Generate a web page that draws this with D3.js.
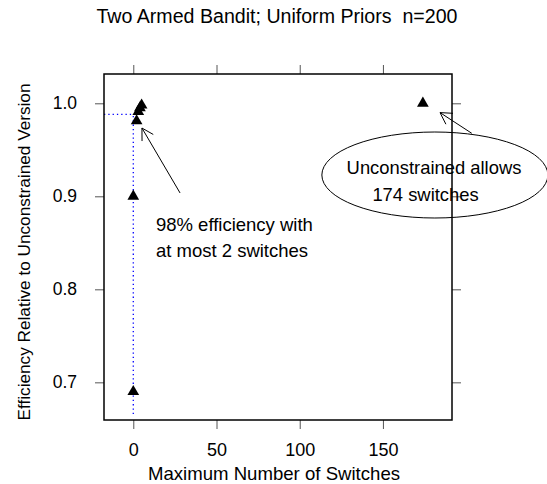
<!DOCTYPE html>
<html>
    <head>
        <title>Two Armed Bandit</title>
        <script src="https://d3js.org/d3.v7.min.js"></script>
    </head>
    <style>
        body { margin: 0; background: #fff; }
        text { font-family: "Liberation Sans", Arial, sans-serif; fill: #000; white-space: pre; }
    </style>
    <body>
        <div class="graph"></div>
        <script>
            // data
            const maxSwitches = [0, 0, 2, 3, 4, 5, 174];
            const efficiency = [0.69, 0.90, 0.981, 0.991, 0.995, 0.998, 1.0];
            const xTicks = [0, 50, 100, 150];
            const yTicks = [0.7, 0.8, 0.9, 1.0];
            const refLevel = 0.988;   // blue dotted guide

            const width = 547;
            const height = 484;
            const box = { left: 104, right: 452, top: 74, bottom: 420 };

            const x = d3.scaleLinear()
                .domain([-17.6, 191.5])
                .range([box.left, box.right]);

            const y = d3.scaleLinear()
                .domain([0.6595, 1.0315])
                .range([box.bottom, box.top]);

            let chart = d3.select(".graph")
                .append("svg")
                .attr("width", width)
                .attr("height", height);

            // title
            chart.append("text")
                .attr("x", 277)
                .attr("y", 16)
                .attr("dy", "0.35em")
                .attr("text-anchor", "middle")
                .style("font-size", "19.6px")
                .text("Two Armed Bandit; Uniform Priors  n=200");

            // axes, ticks on all four sides, labels left and bottom
            const tickCol = "#555";
            chart.append("g")
                .attr("transform", `translate(0, ${box.bottom})`)
                .call(d3.axisBottom(x).tickValues(xTicks).tickSize(9).tickPadding(14).tickFormat(d3.format("d")))
                .call(g => g.select(".domain").remove())
                .call(g => g.selectAll("line").attr("stroke", tickCol))
                .call(g => g.selectAll("text").style("font-size", "18px").attr("font-family", null));
            chart.append("g")
                .attr("transform", `translate(0, ${box.top})`)
                .call(d3.axisTop(x).tickValues(xTicks).tickSize(9).tickFormat(""))
                .call(g => g.select(".domain").remove())
                .call(g => g.selectAll("line").attr("stroke", tickCol));
            chart.append("g")
                .attr("transform", `translate(${box.left}, 0)`)
                .call(d3.axisLeft(y).tickValues(yTicks).tickSize(9).tickPadding(18).tickFormat(d3.format(".1f")))
                .call(g => g.select(".domain").remove())
                .call(g => g.selectAll("line").attr("stroke", tickCol))
                .call(g => g.selectAll("text").style("font-size", "17.5px").attr("font-family", null));
            chart.append("g")
                .attr("transform", `translate(${box.right}, 0)`)
                .call(d3.axisRight(y).tickValues(yTicks).tickSize(9).tickFormat(""))
                .call(g => g.select(".domain").remove())
                .call(g => g.selectAll("line").attr("stroke", tickCol));

            // axis titles
            chart.append("text")
                .attr("x", 274)
                .attr("y", 473)
                .attr("dy", "0.35em")
                .attr("text-anchor", "middle")
                .style("font-size", "18.6px")
                .text("Maximum Number of Switches");

            chart.append("text")
                .attr("transform", `translate(24, ${(box.top + box.bottom) / 2 + 5}) rotate(-90)`)
                .attr("dy", "0.35em")
                .attr("text-anchor", "middle")
                .style("font-size", "17.2px")
                .text("Efficiency Relative to Unconstrained Version");

            // blue dotted guides
            chart.append("line")
                .attr("x1", box.left).attr("x2", x(0))
                .attr("y1", y(refLevel)).attr("y2", y(refLevel))
                .attr("stroke", "blue").attr("stroke-width", 1.3).attr("stroke-dasharray", "1.3,3");
            chart.append("line")
                .attr("x1", x(0)).attr("x2", x(0))
                .attr("y1", box.bottom - 6).attr("y2", y(refLevel))
                .attr("stroke", "blue").attr("stroke-width", 1.3).attr("stroke-dasharray", "1.3,3");

            // filled triangles, centred on the centroid
            const tri = "M0,-6.75L5.85,3.38L-5.85,3.38Z";
            chart.selectAll("path.pt")
                .data(maxSwitches.map((s, i) => ({ s: s, e: efficiency[i] })))
                .enter()
                .append("path")
                .attr("class", "pt")
                .attr("d", tri)
                .attr("transform", d => `translate(${x(d.s)}, ${y(d.e)})`)
                .attr("fill", "#000");

            // frame
            chart.append("rect")
                .attr("x", box.left).attr("y", box.top)
                .attr("width", box.right - box.left)
                .attr("height", box.bottom - box.top)
                .attr("fill", "none")
                .attr("stroke", "#000")
                .attr("stroke-width", 1.5);

            // annotations, positions in data units
            function arrow(x0, y0, x1, y1) {
                const a = x(x0), b = y(y0), c = x(x1), d = y(y1);
                const ang = Math.atan2(b - d, a - c);
                const len = 13, spread = Math.PI / 6;
                chart.append("path")
                    .attr("d", `M${a},${b}L${c},${d}` +
                        `M${c + len * Math.cos(ang + spread)},${d + len * Math.sin(ang + spread)}L${c},${d}` +
                        `L${c + len * Math.cos(ang - spread)},${d + len * Math.sin(ang - spread)}`)
                    .attr("fill", "none")
                    .attr("stroke", "#000")
                    .attr("stroke-width", 1);
            }
            arrow(28.1, 0.9036, 5.2, 0.9734);
            arrow(203.4, 0.9677, 184.3, 0.990);

            chart.append("ellipse")
                .attr("cx", x(181.2)).attr("cy", y(0.9229))
                .attr("rx", 113).attr("ry", 43)
                .attr("fill", "none")
                .attr("stroke", "#000")
                .attr("stroke-width", 1);

            const note1 = ["98% efficiency with", "at most 2 switches"];
            chart.selectAll("text.n1")
                .data(note1)
                .enter()
                .append("text")
                .attr("class", "n1")
                .attr("x", x(13.6))
                .attr("y", (d, i) => y(0.8702) + i * 26)
                .attr("dy", "0.35em")
                .style("font-size", "18.5px")
                .text(d => d);

            const note2 = ["Unconstrained allows", "174 switches"];
            const note2X = [180.7, 175.6];
            chart.selectAll("text.n2")
                .data(note2)
                .enter()
                .append("text")
                .attr("class", "n2")
                .attr("x", (d, i) => x(note2X[i]))
                .attr("y", (d, i) => y(0.9304) + i * 27)
                .attr("dy", "0.35em")
                .attr("text-anchor", "middle")
                .style("font-size", "18.4px")
                .text(d => d);
        </script>
    </body>
</html>
